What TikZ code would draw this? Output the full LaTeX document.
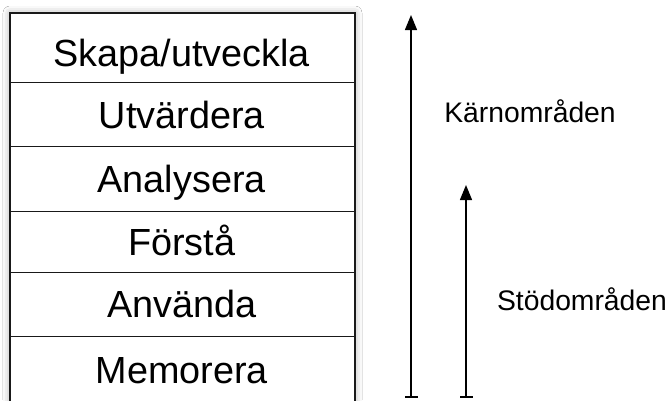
\documentclass[tikz,border=0pt]{standalone}
\usepackage{fontspec}
\setmainfont{Liberation Sans}
\usetikzlibrary{arrows.meta,shadows.blur}
\begin{document}
\begin{tikzpicture}[x=1pt,y=-1pt,
  frame/.style={draw=black!90, line width=2pt, fill=white, anchor=north west,
    minimum width=345pt, inner sep=0pt,
    blur shadow={shadow xshift=0pt, shadow yshift=0pt,
      shadow blur radius=7pt, shadow opacity=35}},
  row/.style={anchor=north west, minimum width=345pt, inner sep=0pt,
    text height=27pt, text depth=0pt, font=\fontsize{37.8}{40}\selectfont},
  divider/.style={draw=black!90, line width=1pt},
  area/.style={inner sep=0pt, text height=20.3pt, text depth=0pt,
    font=\fontsize{28.3}{30}\selectfont},
  span/.style={line width=1.3pt,
    {Bar[width=13pt, line width=2pt]}-{Triangle[length=15pt, width=12pt]}}]

\clip (0,0) rectangle (670,400);
\fill[white] (0,0) rectangle (670,400);

% outer frame of the level stack
\node[frame, minimum height=392pt] (stack) at (9,12) {};

% the six levels, top to bottom
\node[row, minimum height=70pt, text height=38pt] (skapa) at (stack.north west) {Skapa/utveckla};
\node[row, minimum height=64pt] (utv)   at (skapa.south west) {Utvärdera};
\node[row, minimum height=64pt] (anal)  at (utv.south west)   {Analysera};
\node[row, minimum height=61pt] (forst) at (anal.south west)  {Förstå};
\node[row, minimum height=63pt] (anv)   at (forst.south west) {Använda};
\node[row, minimum height=68pt] (mem)   at (anv.south west)   {Memorera};

\foreach \a in {skapa,utv,anal,forst,anv}
  \draw[divider] (\a.south west) -- (\a.south east);

% spans of the two areas
\coordinate (k0) at (411,398);
\coordinate (k1) at (411,15);
\coordinate (s0) at (466,398);
\coordinate (s1) at (466,185);
\draw[span] (k0) -- (k1);
\draw[span] (s0) -- (s1);

\node[area] (karn) at (530,112) {Kärnområden};
\node[area] (stod) at (582,300) {Stödområden};
\end{tikzpicture}
\end{document}
